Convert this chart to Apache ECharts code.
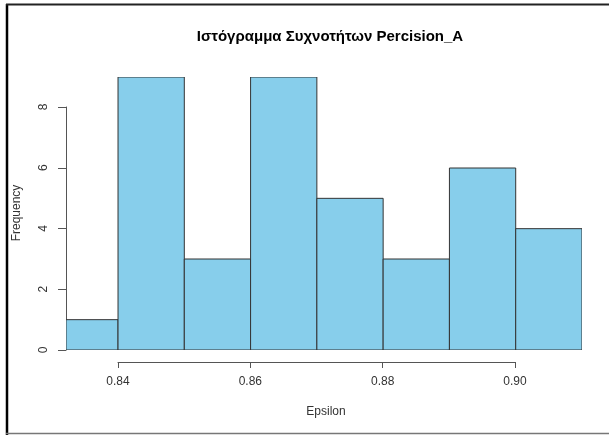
<!DOCTYPE html>
<html>
<head>
<meta charset="utf-8">
<script src="https://cdn.jsdelivr.net/npm/echarts@6/dist/echarts.min.js"></script>
<style>
  html, body { margin: 0; padding: 0; background: #fff; }
  #chart { width: 609px; height: 435px; }
</style>
</head>
<body>
<div id="chart"></div>
<script>
// Histogram of Percision_A: bin edges and frequencies
const binStarts = [0.83, 0.84, 0.85, 0.86, 0.87, 0.88, 0.89, 0.90];
const binEnds   = [0.84, 0.85, 0.86, 0.87, 0.88, 0.89, 0.90, 0.91];
const counts    = [1, 9, 3, 9, 5, 3, 6, 4];
const xTicks    = [0.84, 0.86, 0.88, 0.90];
const yTicks    = [0, 2, 4, 6, 8];

const chart = echarts.init(document.getElementById('chart'), null, { renderer: 'canvas' });

const barData = binStarts.map((s, i) => [s, binEnds[i], counts[i]]);
const axisColor = '#555';
const labelColor = '#333';
const fontFamily = '"Liberation Sans", Arial, sans-serif';

chart.setOption({
  animation: false,
  backgroundColor: '#fff',
  grid: [
    // plotting area for the bars
    { left: 66, right: 27, top: 77, bottom: 85 },
    // frame for the y axis (0..8)
    { left: 66, width: 1, top: 107, bottom: 85 },
    // frame for the x axis (0.84..0.90), offset below the bars
    { left: 118, right: 94, top: 361, bottom: 73 }
  ],
  xAxis: [
    { gridIndex: 0, type: 'value', min: 0.83215, max: 0.91, show: false },
    { gridIndex: 1, type: 'value', min: 0, max: 1, show: false },
    {
      gridIndex: 2, type: 'value', min: xTicks[0], max: xTicks[xTicks.length - 1], interval: 0.02,
      position: 'bottom',
      axisLine: { show: true, onZero: false, lineStyle: { color: axisColor, width: 1 } },
      axisTick: { show: true, length: 6, lineStyle: { color: axisColor } },
      axisLabel: { margin: 14, fontSize: 12, color: labelColor, fontFamily,
        formatter: v => v.toFixed(2) },
      splitLine: { show: false }
    }
  ],
  yAxis: [
    { gridIndex: 0, type: 'value', min: 0, max: 9, show: false },
    {
      gridIndex: 1, type: 'value', min: yTicks[0], max: yTicks[yTicks.length - 1], interval: 2,
      position: 'left',
      axisLine: { show: true, onZero: false, lineStyle: { color: axisColor, width: 1 } },
      axisTick: { show: true, length: 8, lineStyle: { color: axisColor } },
      axisLabel: { margin: 16, fontSize: 12, color: labelColor, fontFamily, rotate: 90 },
      splitLine: { show: false }
    },
    { gridIndex: 2, type: 'value', show: false }
  ],
  series: [{
    type: 'custom',
    xAxisIndex: 0,
    yAxisIndex: 0,
    clip: true,
    data: barData,
    encode: { x: [0, 1], y: 2 },
    renderItem: function (params, api) {
      const p0 = api.coord([api.value(0), api.value(2)]);
      const p1 = api.coord([api.value(1), 0]);
      const rect = echarts.graphic.clipRectByRect(
        { x: p0[0], y: p0[1], width: p1[0] - p0[0], height: p1[1] - p0[1] },
        { x: params.coordSys.x, y: params.coordSys.y - 2,
          width: params.coordSys.width + 2, height: params.coordSys.height + 4 }
      );
      if (!rect) return;
      return {
        type: 'rect',
        shape: rect,
        style: { fill: '#87CEEB', stroke: '#333', lineWidth: 1 }
      };
    }
  }],
  graphic: [
    {
      type: 'text', x: 330, y: 37,
      style: { text: 'Ιστόγραμμα Συχνοτήτων Percision_A', fontSize: 15, fontWeight: 'bold',
        fill: '#000', fontFamily, align: 'center', verticalAlign: 'middle' }
    },
    {
      type: 'text', x: 326, y: 412,
      style: { text: 'Epsilon', fontSize: 12, fill: labelColor, fontFamily,
        align: 'center', verticalAlign: 'middle' }
    },
    {
      type: 'text', x: 17, y: 213, rotation: Math.PI / 2,
      style: { text: 'Frequency', fontSize: 12, fill: labelColor, fontFamily,
        align: 'center', verticalAlign: 'middle' }
    },
    // outer frame
    { type: 'line', shape: { x1: 7, y1: 4, x2: 7, y2: 435 }, style: { stroke: '#000', lineWidth: 2.5 } },
    { type: 'line', shape: { x1: 6, y1: 4.5, x2: 609, y2: 4.5 }, style: { stroke: '#222', lineWidth: 2 } },
    { type: 'line', shape: { x1: 6, y1: 433.5, x2: 609, y2: 433.5 }, style: { stroke: '#777', lineWidth: 1.5 } }
  ]
});
</script>
</body>
</html>
